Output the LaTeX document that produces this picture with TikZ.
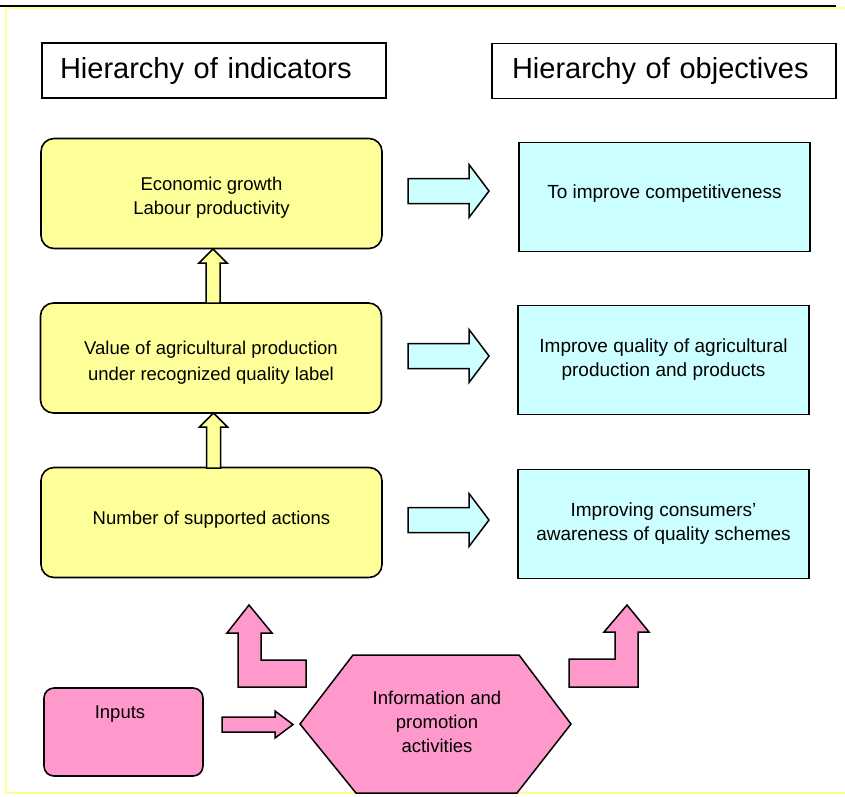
\documentclass[tikz,border=0pt]{standalone}
\usepackage{fontspec}
\setmainfont{Liberation Sans}
\definecolor{yel}{HTML}{FFFF99}
\definecolor{cya}{HTML}{CCFFFF}
\definecolor{pnk}{HTML}{FF99CC}
\definecolor{frameyel}{HTML}{FFFF99}
\newcommand\mvtext[2]{\raisebox{#1}[\height][\depth]{\begin{tabular}{@{}c@{}}#2\end{tabular}}}
\newcommand\upblock[4]{% x, tip y, head base y, bottom y
  \draw[blk, fill=yel] (#1-7,#4) -- (#1-7,#3) -- (#1-14,#3) -- (#1,#2) -- (#1+14,#3) -- (#1+7,#3) -- (#1+7,#4) -- cycle;}
\newcommand\rightblock[1]{% centre y
  \draw[blk, fill=cya] (408,#1-12.5) -- (469,#1-12.5) -- (469,#1-26.5) -- (489,#1) -- (469,#1+26.5) -- (469,#1+12.5) -- (408,#1+12.5) -- cycle;}
\begin{document}
\begin{tikzpicture}[x=1pt,y=-1pt,
  every node/.style={font=\fontsize{18.5}{24}\selectfont, align=center, inner sep=0pt},
  titlebox/.style={draw, line width=1.3pt, fill=white, font=\fontsize{29}{33}\selectfont, align=left, inner ysep=0pt, minimum height=55pt},
  yelbox/.style={draw, line width=1.6pt, fill=yel, rounded corners=13pt, minimum width=341pt, minimum height=110pt},
  cyanbox/.style={draw, line width=1.6pt, fill=cya, minimum width=291pt, minimum height=109pt, font=\fontsize{19}{24}\selectfont},
  pinkbox/.style={draw, line width=1.6pt, fill=pnk, rounded corners=10pt},
  blk/.style={draw=black, line width=1.5pt, line join=miter}]
\useasboundingbox (0,0) rectangle (845,796);
% frame
\draw[frameyel, line width=1.5pt] (845,8) -- (6,8) -- (6,793) -- (845,793);
\draw[black, line width=2pt] (0,5.5) -- (836,5.5);
% titles
\node[titlebox, text width=308pt, inner xsep=18pt] (t1) at (214,70.5) {Hierarchy of indicators};
\node[titlebox, text width=304pt, inner xsep=20pt] (t2) at (664,71) {Hierarchy of objectives};
% yellow boxes
\node[yelbox] (y1) at (211.5,193.5) {\mvtext{-4pt}{Economic growth\\Labour productivity}};
\node[yelbox, font=\fontsize{18.5}{26.5}\selectfont] (y2) at (211,358) {\mvtext{-4pt}{Value of agricultural production\\under recognized quality label}};
\node[yelbox] (y3) at (211.5,522.5) {\mvtext{3pt}{Number of supported actions}};
% cyan boxes
\node[cyanbox] (c1) at (664.5,197) {\mvtext{3pt}{To improve competitiveness}};
\node[cyanbox] (c2) at (663.5,360) {Improve quality of agricultural\\production and products};
\node[cyanbox] (c3) at (663.5,524) {Improving consumers’\\awareness of quality schemes};
% up arrows
\upblock{213}{249}{263}{303}
\upblock{213.5}{413}{427}{468}
% right arrows
\rightblock{191}
\rightblock{356}
\rightblock{520}
% inputs
\node[pinkbox, minimum width=159pt, minimum height=88pt] (in) at (123.5,732) {};
\node (inT) at (120,714) {Inputs};
% hexagon
\draw[blk, fill=pnk] (353,655) -- (519,655) -- (571,724) -- (517,793) -- (356,793) -- (300,724) -- cycle;
\node (hexT) at (437,722) {Information and\\promotion\\activities};
% pink arrow to hexagon
\draw[blk, fill=pnk] (222,717) -- (275,717) -- (275,711) -- (293,724.5) -- (275,738) -- (275,732) -- (222,732) -- cycle;
% bent arrows
\draw[blk, fill=pnk] (238,687) -- (306,687) -- (306,660) -- (261,660) -- (261,633) -- (272,633) -- (249,605) -- (227,633) -- (238,633) -- cycle;
\draw[blk, fill=pnk] (569,687) -- (638,687) -- (638,632) -- (649,632) -- (627,605) -- (604,632) -- (615,632) -- (615,659) -- (569,659) -- cycle;
\end{tikzpicture}
\end{document}
